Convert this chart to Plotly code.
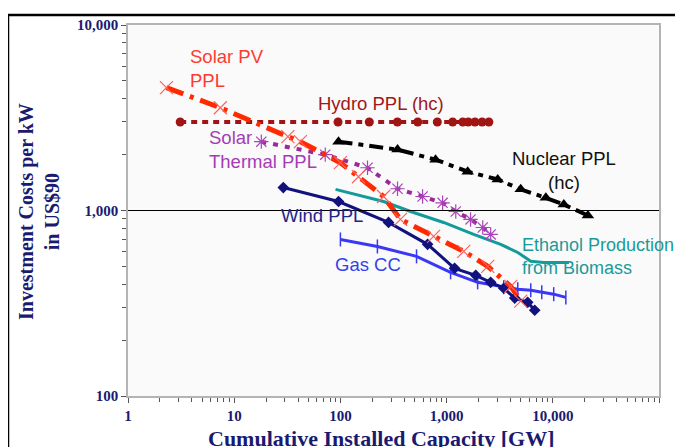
import plotly.graph_objects as go

# ---- data ----
solar_pv_x = [2.3, 7.4, 32, 42, 100, 148, 255, 368, 754, 1450, 2440, 4020, 4990]
solar_pv_y = [4600, 3580, 2500, 2350, 1810, 1520, 1190, 895, 725, 602, 500, 390, 325]

hydro_x = [3.1, 95, 187, 344, 535, 818, 1140, 1420, 1600, 1850, 2160, 2500]
hydro_y = [3000, 3000, 3000, 3000, 3000, 3000, 3000, 3000, 3000, 3000, 3000, 3000]

nuclear_x = [96, 345, 787, 1580, 3030, 4990, 8600, 12700, 21400]
nuclear_y = [2350, 2130, 1880, 1620, 1470, 1300, 1170, 1077, 940]

thermal_x = [18, 72, 180, 345, 594, 917, 1220, 1680, 2190, 2600]
thermal_y = [2350, 2000, 1700, 1310, 1190, 1100, 988, 895, 810, 743]

ethanol_x = [90, 255, 458, 937, 1800, 3230, 4680, 6200, 8200, 14200]
ethanol_y = [1300, 1118, 988, 862, 743, 657, 594, 532, 525, 525]

wind_x = [29, 96, 284, 662, 1190, 1880, 2600, 3450, 4380, 5800, 6760]
wind_y = [1330, 1118, 862, 657, 488, 447, 410, 381, 337, 320, 290]

gas_x = [100, 223, 521, 1090, 1960, 3450, 4680, 6200, 7870, 10200, 13270]
gas_y = [698, 640, 566, 464, 410, 386, 376, 372, 362, 354, 340]

x_tickvals = [1, 10, 100, 1000, 10000, 100000]
x_ticktext = ["1", "10", "100", "1,000", "10,000", "100,000"]
y_tickvals = [100, 1000, 10000]
y_ticktext = ["100", "1,000", "10,000"]

# ---- layout geometry (page pixels; the page body adds an 8px offset) ----
OFF = 8
PAGE_W, PAGE_H = 683, 447
W, H = PAGE_W - OFF, PAGE_H - OFF
L, R, T, B = 128, 659, 25, 396


def px(x):
    return (x - L) / (R - L)


def py(y):
    return (B - y) / (B - T)


fig = go.Figure()

fig.add_trace(go.Scatter(
    x=hydro_x, y=hydro_y, mode="lines+markers",
    line=dict(color="#a01414", width=4, dash="6px,5px"),
    marker=dict(symbol="circle", size=9, color="#a01414")))

fig.add_trace(go.Scatter(
    x=nuclear_x, y=nuclear_y, mode="lines+markers",
    line=dict(color="#000000", width=4, dash="14px,6px,5px,6px"),
    marker=dict(symbol="triangle-up", size=11, color="#000000")))

fig.add_trace(go.Scatter(
    x=ethanol_x, y=ethanol_y, mode="lines",
    line=dict(color="#139a9a", width=3)))

fig.add_trace(go.Scatter(
    x=thermal_x, y=thermal_y, mode="lines+markers",
    line=dict(color="#9a2a9a", width=4, dash="5px,7px"),
    marker=dict(symbol="asterisk-open", size=12, color="#a844b8",
                line=dict(width=1.2, color="#a844b8"))))

fig.add_trace(go.Scatter(
    x=gas_x, y=gas_y, mode="lines+markers",
    line=dict(color="#3838f5", width=3),
    marker=dict(symbol="line-ns-open", size=10, color="#3838f5",
                line=dict(width=1.5, color="#3838f5"))))

fig.add_trace(go.Scatter(
    x=wind_x, y=wind_y, mode="lines+markers",
    line=dict(color="#12127e", width=3),
    marker=dict(symbol="diamond", size=9, color="#12127e")))

fig.add_trace(go.Scatter(
    x=solar_pv_x, y=solar_pv_y, mode="lines+markers",
    line=dict(color="#ff2a00", width=5, dash="18px,7px,4px,7px"),
    marker=dict(symbol="x-thin-open", size=13, color="#ff6060",
                line=dict(width=1.2, color="#ff6060"))))

# horizontal reference line at 1,000
fig.add_hline(y=1000, line=dict(color="#000000", width=1))

label_font = "Liberation Sans"
ann = [
    dict(text="Solar PV<br>PPL", x=px(188), y=py(68.5), xanchor="left", yanchor="middle",
         align="left", font=dict(color="#ff3a30", size=18.5)),
    dict(text="Hydro PPL (hc)", x=px(316), y=py(103), xanchor="left", yanchor="middle",
         font=dict(color="#a01818", size=18.5)),
    dict(text="Solar<br>Thermal PPL", x=px(207), y=py(149), xanchor="left", yanchor="middle",
         align="left", font=dict(color="#a43cb4", size=18.5)),
    dict(text="Nuclear PPL<br>(hc)", x=px(564), y=py(170.5), xanchor="center", yanchor="middle",
         align="center", font=dict(color="#111111", size=18.5)),
    dict(text="Wind PPL", x=px(279), y=py(215), xanchor="left", yanchor="middle",
         font=dict(color="#23238c", size=18.5)),
    dict(text="Gas CC", x=px(333), y=py(264), xanchor="left", yanchor="middle",
         font=dict(color="#3340ee", size=18.5)),
    dict(text="Ethanol Production<br>from Biomass", x=px(520), y=py(256.5), xanchor="left",
         yanchor="middle", align="left", font=dict(color="#1a9a9a", size=18)),
]
for a in ann:
    a["font"].update(family=label_font)
    a.update(xref="paper", yref="paper", showarrow=False)
    fig.add_annotation(**a)

title_color = "#1a1a70"
fig.add_annotation(text="Investment Costs per kW<br>in US$90", xref="paper", yref="paper",
                   x=px(39), y=py(212), xanchor="center", yanchor="middle", textangle=-90,
                   showarrow=False, align="center",
                   font=dict(family="Liberation Serif", size=20, color=title_color, weight="bold"))
fig.add_annotation(text="Cumulative Installed Capacity [GW]", xref="paper", yref="paper",
                   x=px(381), y=py(439), xanchor="center", yanchor="middle",
                   showarrow=False,
                   font=dict(family="Liberation Serif", size=22, color=title_color, weight="bold"))

# outer frame lines (slide border)
fig.add_shape(type="line", xref="paper", yref="paper", x0=px(8), x1=px(700), y0=py(15), y1=py(15),
              line=dict(color="#000000", width=2.5))
fig.add_shape(type="line", xref="paper", yref="paper", x0=px(8), x1=px(8), y0=py(15), y1=py(470),
              line=dict(color="#000000", width=2.5))

tickfont = dict(family="Liberation Serif", size=15, color=title_color, weight="bold")
axis_common = dict(showline=True, linecolor="#b4b4b4", linewidth=1.5, mirror=True,
                   showgrid=False, zeroline=False, ticks="outside", ticklen=5,
                   tickcolor="#555555", tickwidth=1, tickfont=tickfont,
                   minor=dict(ticks="outside", ticklen=4, tickcolor="#555555",
                              dtick="D1", showgrid=False))

fig.update_xaxes(type="log", range=[0, 5], tickmode="array", tickvals=x_tickvals,
                 ticktext=x_ticktext, **axis_common)
fig.update_yaxes(type="log", range=[2, 4], tickmode="array", tickvals=y_tickvals,
                 ticktext=y_ticktext, **axis_common)

fig.update_layout(
    width=W, height=H,
    margin=dict(l=L - OFF, r=PAGE_W - R, t=T - OFF, b=PAGE_H - B, autoexpand=False),
    plot_bgcolor="#fafafa", paper_bgcolor="#ffffff",
    showlegend=False,
)

fig.write_html("out.html")
